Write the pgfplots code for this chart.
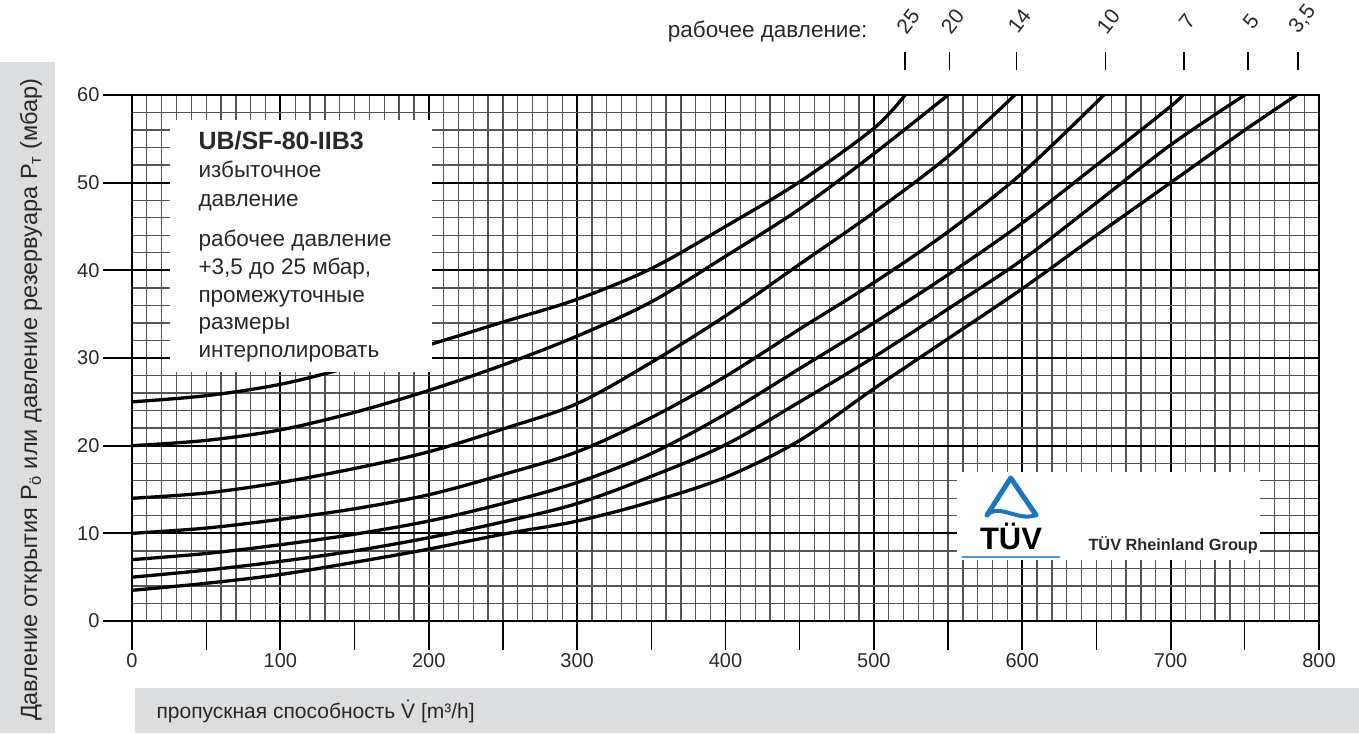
\documentclass[border=0pt]{standalone}
\usepackage{fontspec}
\setmainfont{Liberation Sans}
\usepackage{pgfplots}
\pgfplotsset{compat=1.18}

\definecolor{bandgray}{RGB}{220,221,223}
\definecolor{gridgray}{RGB}{85,85,85}
\definecolor{labelgray}{RGB}{40,40,40}
\definecolor{tuvblue}{RGB}{28,117,190}
\definecolor{tuvline}{RGB}{80,150,210}

\newcommand{\fs}[2]{\fontsize{#1bp}{#2bp}\selectfont}

\begin{document}
\begin{tikzpicture}[x=1bp,y=1bp]
\useasboundingbox (0,0) rectangle (1359,733);

% grey caption bands
\fill[bandgray] (0,0) rectangle (55,671);
\fill[bandgray] (135,0) rectangle (1359,45);
\node[rotate=90, text=labelgray, font=\fs{23.5}{28}] at (31,333)
  {Давление открытия P\textsubscript{ö} или давление резервуара P\textsubscript{т} (мбар)};
\node[anchor=base west, text=labelgray, font=\fs{21}{25}] at (153,15)
  {пропускная способность \.{V} [m³/h]};

\begin{axis}[
  at={(132bp,112bp)}, anchor=south west,
  scale only axis, width=1187bp, height=526bp,
  xmin=0, xmax=800, ymin=0, ymax=60,
  clip mode=individual,
  xtick={0,100,...,800}, ytick={0,10,...,60},
  minor x tick num=9, minor y tick num=4,
  grid=both,
  major grid style={black, line width=1.9bp},
  minor grid style={gridgray, line width=1.3bp},
  extra x ticks={50,150,...,750},
  extra x tick labels={},
  extra x tick style={grid=none, tick style={line width=1.3bp, black}},
  tick align=outside,
  major tick length=29bp, minor tick length=0pt,
  xtick pos=left, ytick pos=left,
  tick style={black, line width=1.9bp},
  axis line style={black, line width=1.9bp},
  ticklabel style={font=\fs{20}{24}, text=labelgray},
  /pgf/number format/assume math mode=true,
  pcurve/.style={black, line width=3.3bp, mark=none, smooth, tension=0.55},
]
% working pressure 25 mbar
\addplot[pcurve] coordinates {(0,25) (50,25.7) (100,27) (150,29.1) (200,31.5) (250,34.1) (300,36.7) (350,40.2) (400,45) (450,50.1) (500,56.2) (521,60)};
% 20 mbar
\addplot[pcurve] coordinates {(0,20) (50,20.6) (100,21.8) (150,23.8) (200,26.3) (250,29.2) (300,32.5) (350,36.4) (400,41.6) (450,47) (500,53.3) (550,60)};
% 14 mbar
\addplot[pcurve] coordinates {(0,14) (50,14.6) (100,15.8) (150,17.4) (200,19.3) (250,21.9) (300,24.8) (350,29.5) (400,34.8) (450,40.7) (500,46.6) (550,53) (595,60)};
% 10 mbar
\addplot[pcurve] coordinates {(0,10) (50,10.6) (100,11.6) (150,12.8) (200,14.4) (250,16.7) (300,19.3) (350,23.2) (400,27.9) (450,33.3) (500,38.6) (550,44.4) (600,51.1) (655,60)};
% 7 mbar
\addplot[pcurve] coordinates {(0,7) (50,7.7) (100,8.7) (150,9.9) (200,11.4) (250,13.4) (300,15.8) (350,19.1) (400,23.6) (450,28.8) (500,34) (550,39.5) (600,45.4) (650,52) (700,58.7) (708,60)};
% 5 mbar
\addplot[pcurve] coordinates {(0,5) (50,5.8) (100,6.8) (150,8) (200,9.5) (250,11.3) (300,13.4) (350,16.5) (400,20.1) (450,25) (500,30.1) (550,35.6) (600,41.2) (650,47.7) (700,54.3) (750,60)};
% 3,5 mbar
\addplot[pcurve] coordinates {(0,3.5) (50,4.3) (100,5.3) (150,6.7) (200,8.2) (250,9.9) (300,11.4) (350,13.6) (400,16.4) (450,20.6) (500,26.5) (550,32.2) (600,37.9) (650,44) (700,50) (750,56) (785,60)};

% working-pressure markers above the plot
\node[anchor=base east, text=labelgray, font=\fs{22.5}{27}] at (axis cs:498,66.6) {рабочее давление:};
\draw[line width=1.6bp] (axis cs:521,62.8) -- (axis cs:521,64.9);
\draw[line width=1.6bp] (axis cs:551,62.8) -- (axis cs:551,64.9);
\draw[line width=1.6bp] (axis cs:596,62.8) -- (axis cs:596,64.9);
\draw[line width=1.6bp] (axis cs:656,62.8) -- (axis cs:656,64.9);
\draw[line width=1.6bp] (axis cs:709,62.8) -- (axis cs:709,64.9);
\draw[line width=1.6bp] (axis cs:752,62.8) -- (axis cs:752,64.9);
\draw[line width=1.6bp] (axis cs:786,62.8) -- (axis cs:786,64.9);
\node[rotate=52, inner sep=1bp, text=labelgray, font=\fs{21}{24}] at (axis cs:523,68.4) {25};
\node[rotate=52, inner sep=1bp, text=labelgray, font=\fs{21}{24}] at (axis cs:553,68.4) {20};
\node[rotate=52, inner sep=1bp, text=labelgray, font=\fs{21}{24}] at (axis cs:598,68.4) {14};
\node[rotate=52, inner sep=1bp, text=labelgray, font=\fs{21}{24}] at (axis cs:658,68.4) {10};
\node[rotate=52, inner sep=1bp, text=labelgray, font=\fs{21}{24}] at (axis cs:711,68.4) {7};
\node[rotate=52, inner sep=1bp, text=labelgray, font=\fs{21}{24}] at (axis cs:754,68.4) {5};
\node[rotate=52, inner sep=1bp, text=labelgray, font=\fs{21}{24}] at (axis cs:789,68.6) {3,5};
\end{axis}

% description panel
\fill[white] (170,361) rectangle (432,613);
\node[anchor=base west, font=\fs{25}{30}\bfseries, text=labelgray] at (195,583) {UB/SF-80-IIB3};
\node[anchor=base west, font=\fs{22.5}{27}, text=labelgray] at (195,555) {избыточное};
\node[anchor=base west, font=\fs{22.5}{27}, text=labelgray] at (195,526) {давление};
\node[anchor=base west, font=\fs{22.5}{27}, text=labelgray] at (195,486) {рабочее давление};
\node[anchor=base west, font=\fs{22.5}{27}, text=labelgray] at (195,458) {+3,5 до 25 мбар,};
\node[anchor=base west, font=\fs{22.5}{27}, text=labelgray] at (195,430) {промежуточные};
\node[anchor=base west, font=\fs{22.5}{27}, text=labelgray] at (195,403) {размеры};
\node[anchor=base west, font=\fs{22.5}{27}, text=labelgray] at (195,375) {интерполировать};

% certification mark
\fill[white] (957,173) rectangle (1260,261);
\draw[tuvblue, line width=5bp, line join=round, line cap=round] (987,218) -- (1010.7,255) -- (1036,218);
\draw[tuvblue, line width=4bp, line cap=round] (987,218) .. controls (1000,230) and (1018,211) .. (1036,218);
\node[anchor=base, font=\fs{31}{36}\bfseries] at (1011,183) {TÜV};
\draw[tuvline, line width=2.5bp] (962,176) -- (1060,176);
\node[anchor=base west, font=\fs{16.3}{19}\bfseries, text=labelgray] at (1085,182) {TÜV Rheinland Group};
\end{tikzpicture}
\end{document}
